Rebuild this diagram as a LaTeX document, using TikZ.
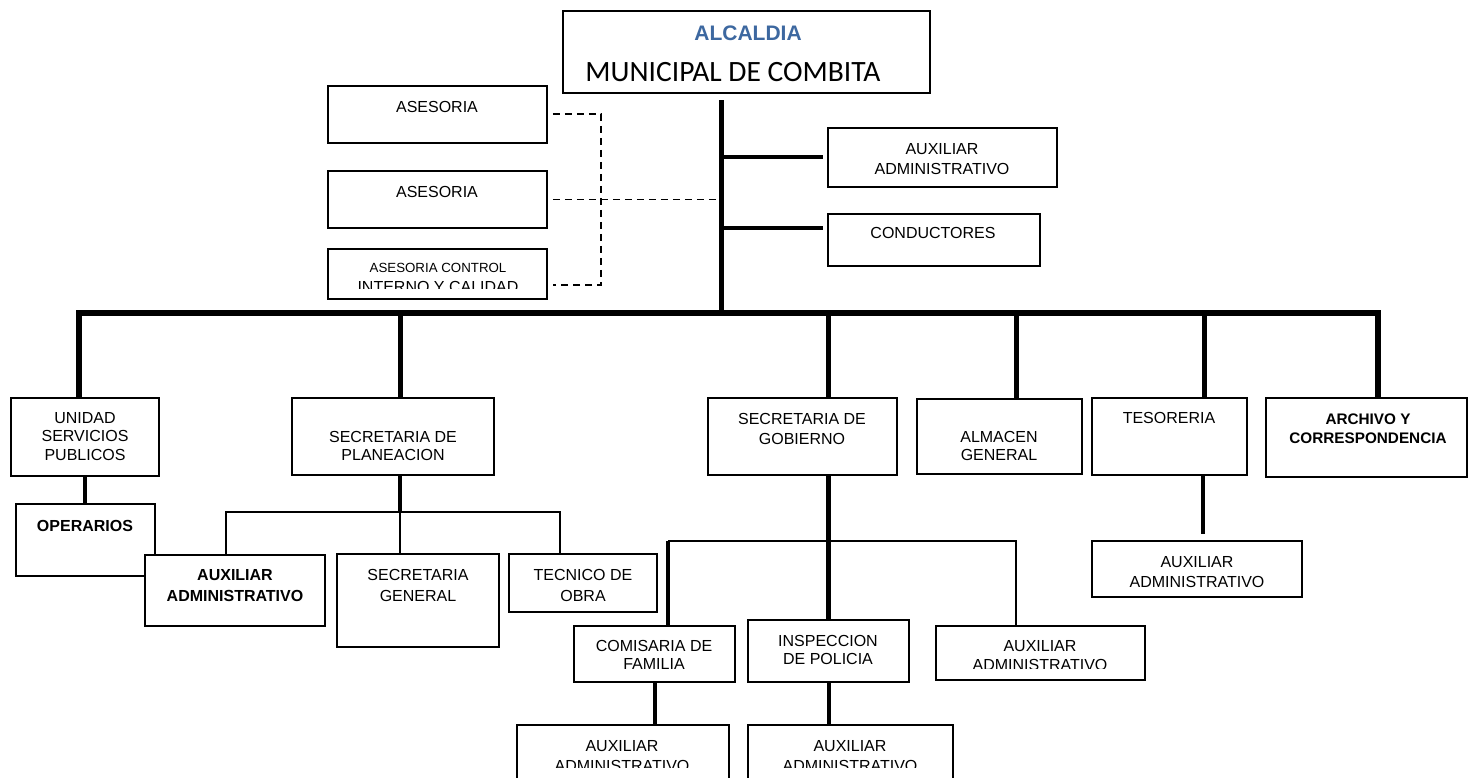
\documentclass[tikz,border=0pt]{standalone}
\usepackage{fontspec}
\setmainfont{Liberation Sans}
\newfontfamily\calibfont{Carlito}
\definecolor{alcblue}{RGB}{61,104,160}
\newcommand\orgbox[5]{\node[box,minimum width={(#4-#2)*1pt},minimum height={(#5-#3)*1pt}] (#1) at ({(#2+#4)/2},{(#3+#5)/2}) {};}
\begin{document}
\begin{tikzpicture}[x=1pt,y=-1pt,
  box/.style={draw,line width=1.8pt,fill=white,inner sep=0pt,rectangle},
  txt/.style={inner sep=0pt,align=center,font=\fontsize{16}{19}\selectfont},
  txtw/.style={inner sep=0pt,align=center,font=\fontsize{16}{20.5}\selectfont},
  txtn/.style={inner sep=0pt,align=center,font=\fontsize{16}{18.3}\selectfont},
  txtb/.style={inner sep=0pt,align=center,font=\bfseries\fontsize{16}{20.5}\selectfont},
  heavy/.style={line width=5pt},
  bar/.style={line width=6pt,line join=miter},
  mid/.style={line width=4pt},
  thin/.style={line width=1.8pt},
  dsh/.style={line width=1.8pt,dash pattern=on 7pt off 5pt}]
\useasboundingbox (0,0) rectangle (1471,777);
\clip (0,0) rectangle (1471,777);
\fill[white] (0,0) rectangle (1471,777);

% ---------- boxes ----------
\orgbox{alc}{563}{11}{930}{93}
\orgbox{as1}{328}{86}{547}{143}
\orgbox{as2}{328}{171}{547}{228}
\orgbox{as3}{328}{249}{547}{299}
\orgbox{auxt}{828}{128}{1057}{187}
\orgbox{cond}{828}{214}{1040}{266}
\orgbox{usp}{11}{398}{159}{476}
\orgbox{spl}{292}{398}{494}{475}
\orgbox{sgo}{708}{398}{897}{475}
\orgbox{alm}{917}{399}{1082}{474}
\orgbox{tes}{1092}{398}{1247}{475}
\orgbox{arc}{1266}{398}{1467}{477}
\orgbox{ope}{16}{504}{155}{576}
\orgbox{auxp}{145}{555}{325}{626}
\orgbox{sgen}{337}{554}{499}{647}
\orgbox{tec}{509}{554}{657}{612}
\orgbox{auxte}{1092}{541}{1302}{597}
\orgbox{com}{574}{626}{735}{682}
\orgbox{insp}{748}{620}{909}{682}
\orgbox{auxg}{936}{626}{1145}{680}
\orgbox{auxc}{517}{725}{729}{800}
\orgbox{auxi}{748}{725}{953}{800}

% ---------- texts ----------
\node[inner sep=0pt,font=\bfseries\fontsize{21}{25}\selectfont,text=alcblue] (talc1) at (748,33) {ALCALDIA};
\node[inner sep=0pt,font=\calibfont\fontsize{29.5}{34}\selectfont] (talc2) at (733,72) {MUNICIPAL DE COMBITA};
\node[txt] (tas1) at (437,107) {ASESORIA};
\node[txt] (tas2) at (437,192) {ASESORIA};
\node[inner sep=0pt,font=\fontsize{13.3}{16}\selectfont] (tas3a) at (438,268) {ASESORIA CONTROL};
\begin{scope}
  \clip (330,250) rectangle (545,288.3);
  \node[txt] (tas3b) at (438,286.5) {INTERNO Y CALIDAD};
\end{scope}
\node[txtw] (tauxt) at (942,159) {AUXILIAR\\ADMINISTRATIVO};
\node[txt] (tcond) at (933,233) {CONDUCTORES};
\node[txtn] (tusp) at (85,436.5) {UNIDAD\\SERVICIOS\\PUBLICOS};
\node[txtn] (tspl) at (393,446) {SECRETARIA DE\\PLANEACION};
\node[txtw] (tsgo) at (802,429) {SECRETARIA DE\\GOBIERNO};
\node[txtn] (talm) at (999,446) {ALMACEN\\GENERAL};
\node[txt] (ttes) at (1169,418) {TESORERIA};
\node[inner sep=0pt,align=center,font=\bfseries\fontsize{15.3}{19}\selectfont] (tarc) at (1368,428.5) {ARCHIVO Y\\CORRESPONDENCIA};
\node[inner sep=0pt,font=\bfseries\fontsize{16}{19}\selectfont] (tope) at (85,526) {OPERARIOS};
\node[txtb] (tauxp) at (235,585.5) {AUXILIAR\\ADMINISTRATIVO};
\node[txtw] (tsgen) at (418,585.5) {SECRETARIA\\GENERAL};
\node[txtw] (ttec) at (583,585.5) {TECNICO DE\\OBRA};
\node[txtw] (tauxte) at (1197,572) {AUXILIAR\\ADMINISTRATIVO};
\node[txtn] (tcom) at (654,655) {COMISARIA DE\\FAMILIA};
\node[txtn] (tinsp) at (828,650) {INSPECCION\\DE POLICIA};
\begin{scope}
  \clip (938,628) rectangle (1143,668.5);
  \node[txt] (tauxg) at (1040,656) {AUXILIAR\\ADMINISTRATIVO};
\end{scope}
\begin{scope}
  \clip (519,727) rectangle (727,767.5);
  \node[txtw] (tauxc) at (622,756) {AUXILIAR\\ADMINISTRATIVO};
\end{scope}
\begin{scope}
  \clip (750,727) rectangle (951,767.5);
  \node[txtw] (tauxi) at (850,756) {AUXILIAR\\ADMINISTRATIVO};
\end{scope}

% ---------- coordinates ----------
\coordinate (mvtop) at (721,100);
\coordinate (mvbot) at (721,313);
\coordinate (d1) at (79,313);
\coordinate (d2) at (400,313);
\coordinate (d3) at (828,313);
\coordinate (d4) at (1016,313);
\coordinate (d5) at (1204,313);
\coordinate (d6) at (1378,313);
\coordinate (dj1) at (601,114);
\coordinate (dj3) at (601,285);
\coordinate (a1) at ([xshift=5pt]as1.east);
\coordinate (a2) at ([xshift=5pt]as2.east);
\coordinate (a3) at ([xshift=5pt]as3.east);
\coordinate (s1) at (721,157);
\coordinate (s2) at (721,228);
\coordinate (pj) at (400,512);
\coordinate (pl) at (226,512);
\coordinate (pr) at (560,512);
\coordinate (gj) at (828,541);
\coordinate (gl) at (668,541);
\coordinate (gr) at (1016,541);
\coordinate (tj) at (1203,534);
\coordinate (uj) at (85,504);

% ---------- connectors ----------
\draw[heavy] (mvtop) -- (mvbot);
\draw[mid] (s1) -- ([xshift=-4pt]auxt.west |- s1);
\draw[mid] (s2) -- ([xshift=-4pt]cond.west |- s2);
\draw[dsh] (a1 |- dj1) -- (dj1) -- (dj3) -- (a3 |- dj3);
\draw[dsh] (a2) -- (as2.east -| mvtop);
\draw[bar] (d1 |- usp.north) -- (d1) -- (d6) -- (d6 |- arc.north);
\draw[heavy] (d2) -- (d2 |- spl.north);
\draw[heavy] (d3) -- (d3 |- sgo.north);
\draw[heavy] (d4) -- (d4 |- alm.north);
\draw[heavy] (d5) -- (d5 |- tes.north);
% unidad -> operarios
\draw[mid] (usp.south -| uj) -- (uj);
% planeacion
\draw[mid] (spl.south -| pj) -- (pj);
\draw[thin] (pl |- auxp.north) -- (pl) -- (pr) -- (pr |- tec.north);
\draw[thin] (pl -| pj) -- (pj |- sgen.north);
% gobierno
\draw[heavy] (sgo.south -| gj) -- (gj |- insp.north);
\draw[thin] (gl) -- (gr) -- (gr |- auxg.north);
\draw[mid] (gl) -- (gl |- com.north);
% tesoreria
\draw[mid] (tes.south -| tj) -- (tj);
% bottom
\draw[mid] (com.south) -- (auxc.north -| com.south);
\draw[mid] (insp.south) -- (auxi.north -| insp.south);
\end{tikzpicture}
\end{document}
